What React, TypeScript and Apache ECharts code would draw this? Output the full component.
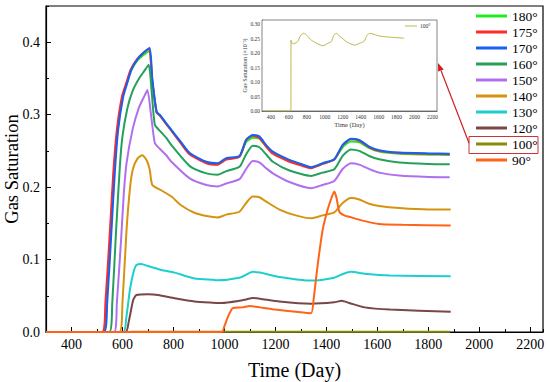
import React, { useEffect, useRef } from "react";
import * as echarts from "echarts";

const FONT = "Liberation Serif";

const seriesNames = ["180°", "175°", "170°", "160°", "150°", "140°", "130°", "120°", "100°", "90°"];
const seriesColors = ["#22ea22", "#ff2a2a", "#1a5ff0", "#24a05a", "#b070ee", "#d59310", "#1ccfcf", "#7a4646", "#8a8a08", "#ff6318"];

const xTickLabels = [400, 600, 800, 1000, 1200, 1400, 1600, 1800, 2000, 2200];
const yTickLabels = [0, 0.1, 0.2, 0.3, 0.4];
const insetYTickLabels = [0, 0.05, 0.1, 0.15, 0.2, 0.25, 0.3];

// 170°
const d170 = [300, 527, 540, 557, 570, 583, 603, 620, 635, 660, 685, 707, 717, 734, 746, 772, 792, 830, 864, 929, 974, 1007, 1059, 1085, 1111, 1137, 1164, 1190, 1255, 1300, 1340, 1385, 1431, 1464, 1496, 1529, 1568, 1607, 1686, 1800, 1884];
const v170 = [0, 0, 0.04, 0.141, 0.22, 0.279, 0.325, 0.345, 0.362, 0.377, 0.386, 0.392, 0.35, 0.304, 0.3, 0.288, 0.279, 0.262, 0.247, 0.235, 0.233, 0.24, 0.243, 0.265, 0.272, 0.27, 0.258, 0.249, 0.2375, 0.232, 0.2275, 0.233, 0.2385, 0.258, 0.2666, 0.265, 0.256, 0.251, 0.2477, 0.2465, 0.246];
// 175°
const d175 = [300, 520, 533, 551, 564, 578, 598, 616, 632, 658, 684, 705, 716, 734, 746, 772, 792, 830, 864, 929, 974, 1007, 1059, 1085, 1111, 1137, 1164, 1190, 1255, 1300, 1340, 1385, 1431, 1464, 1496, 1529, 1568, 1607, 1686, 1800, 1884];
const v175 = [0, 0, 0.04, 0.141, 0.22, 0.279, 0.325, 0.345, 0.362, 0.377, 0.386, 0.391, 0.35, 0.303, 0.299, 0.287, 0.278, 0.26, 0.245, 0.233, 0.231, 0.238, 0.242, 0.265, 0.271, 0.268, 0.256, 0.246, 0.235, 0.23, 0.2262, 0.232, 0.238, 0.258, 0.266, 0.264, 0.255, 0.25, 0.247, 0.246, 0.2455];
// 180°
const d180 = [300, 524, 537, 554, 567, 581, 601, 618, 634, 659, 685, 706, 716, 734, 746, 772, 792, 830, 864, 929, 974, 1007, 1059, 1085, 1111, 1137, 1164, 1190, 1255, 1300, 1340, 1385, 1431, 1464, 1496, 1529, 1568, 1607, 1686, 1800, 1884];
const v180 = [0, 0, 0.04, 0.141, 0.22, 0.279, 0.325, 0.345, 0.361, 0.375, 0.383, 0.388, 0.348, 0.303, 0.299, 0.287, 0.278, 0.261, 0.246, 0.234, 0.232, 0.239, 0.242, 0.262, 0.268, 0.267, 0.256, 0.248, 0.237, 0.2315, 0.227, 0.232, 0.238, 0.255, 0.263, 0.262, 0.254, 0.249, 0.246, 0.2448, 0.2443];
// 160°
const d160 = [300, 548, 560, 575, 590, 600, 620, 640, 665, 685, 703, 715, 727, 746, 772, 792, 864, 929, 974, 1007, 1059, 1085, 1111, 1137, 1164, 1190, 1255, 1340, 1385, 1431, 1464, 1496, 1529, 1568, 1607, 1686, 1800, 1884];
const v160 = [0, 0, 0.04, 0.14, 0.23, 0.27, 0.31, 0.333, 0.35, 0.36, 0.369, 0.33, 0.286, 0.278, 0.268, 0.258, 0.229, 0.219, 0.217, 0.222, 0.228, 0.245, 0.257, 0.255, 0.245, 0.235, 0.223, 0.2155, 0.22, 0.2247, 0.243, 0.252, 0.25, 0.243, 0.2385, 0.234, 0.232, 0.2316];
// 150°
const d150 = [300, 567, 578, 595, 605, 616, 640, 665, 685, 698, 712, 727, 746, 772, 792, 864, 929, 974, 1007, 1059, 1085, 1111, 1137, 1164, 1190, 1255, 1340, 1385, 1431, 1464, 1496, 1529, 1568, 1607, 1686, 1800, 1884];
const v150 = [0, 0, 0.04, 0.13, 0.19, 0.233, 0.28, 0.31, 0.325, 0.334, 0.3, 0.261, 0.253, 0.244, 0.235, 0.212, 0.203, 0.201, 0.205, 0.211, 0.225, 0.236, 0.234, 0.226, 0.219, 0.207, 0.1985, 0.203, 0.2085, 0.225, 0.233, 0.231, 0.225, 0.22, 0.216, 0.214, 0.2137];
// 140°
const d140 = [300, 588, 600, 616, 630, 641, 660, 678, 695, 707, 717, 750, 792, 830, 880, 930, 974, 1007, 1059, 1085, 1111, 1137, 1164, 1216, 1280, 1340, 1385, 1431, 1464, 1496, 1529, 1568, 1607, 1686, 1800, 1888];
const v140 = [0, 0, 0.04, 0.141, 0.2, 0.225, 0.24, 0.244, 0.237, 0.224, 0.203, 0.196, 0.187, 0.175, 0.165, 0.16, 0.158, 0.162, 0.166, 0.178, 0.187, 0.186, 0.18, 0.169, 0.161, 0.157, 0.161, 0.165, 0.178, 0.185, 0.183, 0.177, 0.174, 0.171, 0.169, 0.169];
// 130°
const d130 = [300, 603, 615, 630, 645, 655, 674, 700, 753, 805, 850, 883, 955, 974, 1059, 1085, 1111, 1140, 1216, 1340, 1431, 1465, 1496, 1560, 1650, 1888];
const v130 = [0, 0, 0.02, 0.06, 0.085, 0.0925, 0.094, 0.091, 0.0856, 0.082, 0.077, 0.074, 0.072, 0.0715, 0.075, 0.079, 0.083, 0.082, 0.076, 0.071, 0.075, 0.08, 0.083, 0.08, 0.078, 0.077];
// 120°
const d120 = [300, 612, 625, 642, 655, 700, 740, 805, 883, 955, 990, 1059, 1085, 1111, 1140, 1216, 1340, 1431, 1460, 1490, 1550, 1650, 1888];
const v120 = [0, 0, 0.015, 0.044, 0.051, 0.052, 0.051, 0.0465, 0.042, 0.0405, 0.04, 0.043, 0.045, 0.047, 0.046, 0.042, 0.039, 0.041, 0.043, 0.04, 0.034, 0.031, 0.028];
// 100° (inset, in units of 1e-3)
const d100 = [300, 622, 623, 640, 698, 730, 765, 800, 850, 978, 1040, 1072, 1100, 1128, 1170, 1250, 1330, 1400, 1440, 1470, 1505, 1600, 1706, 1885];
const v100Inset = [0, 0, 0.245, 0.232, 0.24, 0.262, 0.269, 0.262, 0.245, 0.226, 0.235, 0.24, 0.262, 0.269, 0.258, 0.238, 0.228, 0.236, 0.242, 0.262, 0.269, 0.26, 0.256, 0.252];
// 90°
const d90 = [300, 990, 1000, 1015, 1033, 1070, 1100, 1140, 1200, 1280, 1340, 1350, 1365, 1385, 1405, 1420, 1431, 1440, 1451, 1470, 1490, 1529, 1607, 1700, 1888];
const v90 = [0, 0, 0.008, 0.022, 0.033, 0.034, 0.036, 0.034, 0.031, 0.028, 0.026, 0.045, 0.09, 0.14, 0.169, 0.185, 0.194, 0.185, 0.166, 0.161, 0.159, 0.155, 0.149, 0.148, 0.147];

const pairs = (d: number[], v: number[]) => d.map((t, i) => [t, v[i]]);

const mainData: Record<string, number[][]> = {
  "180°": pairs(d180, v180),
  "175°": pairs(d175, v175),
  "170°": pairs(d170, v170),
  "160°": pairs(d160, v160),
  "150°": pairs(d150, v150),
  "140°": pairs(d140, v140),
  "130°": pairs(d130, v130),
  "120°": pairs(d120, v120),
  "100°": pairs(d100, v100Inset.map((v) => v / 1000)),
  "90°": pairs(d90, v90),
};

export default function App() {
  const ref = useRef<HTMLDivElement>(null);
  useEffect(() => {
    if (!ref.current) return;
    const chart = echarts.init(ref.current, null, { renderer: "svg" });
    const black = "#000";

    const series: any[] = seriesNames.map((name, i) => ({
      type: "line",
      name,
      xAxisIndex: 0,
      yAxisIndex: 0,
      data: mainData[name],
      showSymbol: false,
      symbol: "none",
      smooth: 0.2,
      lineStyle: { color: seriesColors[i], width: 2 },
      itemStyle: { color: seriesColors[i] },
      z: 2 + i,
    }));
    series.push({
      type: "line",
      name: "inset100",
      xAxisIndex: 2,
      yAxisIndex: 2,
      data: pairs(d100, v100Inset),
      showSymbol: false,
      symbol: "none",
      smooth: 0.2,
      lineStyle: { color: "#b9b94a", width: 1 },
      itemStyle: { color: "#b9b94a" },
      z: 20,
    });

    const option: any = {
      animation: false,
      backgroundColor: "#fff",
      grid: [
        { left: 46, right: 7, top: 6, bottom: 50, outerBoundsMode: "none", containLabel: false, show: true, borderColor: black, borderWidth: 1.2, backgroundColor: "transparent" },
        { left: 262, top: 20, width: 175, height: 91, outerBoundsMode: "none", containLabel: false, show: true, borderColor: "#666", borderWidth: 0.8, backgroundColor: "#fff", z: 10 },
      ],
      legend: {
        data: seriesNames,
        orient: "vertical",
        left: 476,
        top: 9,
        padding: 0,
        itemGap: 2,
        itemWidth: 31,
        itemHeight: 3,
        icon: "rect",
        textStyle: { fontFamily: FONT, fontSize: 13.5, lineHeight: 14, color: black },
      },
      xAxis: [
        {
          gridIndex: 0, type: "value", min: 300, max: 2250, position: "bottom",
          axisLine: { show: true, onZero: false, lineStyle: { color: black, width: 1.2 } },
          axisTick: { show: true, inside: true, length: 5, customValues: xTickLabels, lineStyle: { color: black, width: 1 } },
          axisLabel: { customValues: xTickLabels, fontSize: 14, margin: 5, fontFamily: FONT, color: black, formatter: (v: number) => String(v) },
          splitLine: { show: false },
          name: "Time (Day)", nameLocation: "middle", nameGap: 28, nameMoveOverlap: false,
          nameTextStyle: { fontFamily: FONT, fontSize: 20, color: black },
        },
        {
          gridIndex: 0, type: "value", min: 300, max: 2250, interval: 100, position: "bottom",
          axisLine: { show: false, onZero: false },
          axisTick: { show: true, inside: true, length: 3, lineStyle: { color: black, width: 1 } },
          axisLabel: { show: false },
          splitLine: { show: false },
        },
        {
          gridIndex: 1, type: "value", min: 300, max: 2250, position: "bottom",
          axisLine: { show: true, onZero: false, lineStyle: { color: "#444", width: 0.8 } },
          axisTick: { show: true, inside: true, length: 2, customValues: xTickLabels, lineStyle: { color: "#444", width: 0.6 } },
          axisLabel: { customValues: xTickLabels, fontSize: 5.5, margin: 3, fontFamily: FONT, color: "#333", formatter: (v: number) => String(v) },
          splitLine: { show: false },
          name: "Time (Day)", nameLocation: "middle", nameGap: 10, nameMoveOverlap: false,
          nameTextStyle: { fontFamily: FONT, fontSize: 6.5, color: "#333" },
        },
      ],
      yAxis: [
        {
          gridIndex: 0, type: "value", min: 0, max: 0.45, position: "left",
          axisLine: { show: true, onZero: false, lineStyle: { color: black, width: 1.2 } },
          axisTick: { show: true, inside: true, length: 5, customValues: yTickLabels, lineStyle: { color: black, width: 1 } },
          axisLabel: { customValues: yTickLabels, fontSize: 14, margin: 6, formatter: (v: number) => v.toFixed(1), fontFamily: FONT, color: black },
          splitLine: { show: false },
          name: "Gas Saturation", nameLocation: "middle", nameGap: 25, nameMoveOverlap: false,
          nameTextStyle: { fontFamily: FONT, fontSize: 18.5, color: black },
        },
        {
          gridIndex: 0, type: "value", min: 0, max: 0.45, interval: 0.05, position: "left",
          axisLine: { show: false, onZero: false },
          axisTick: { show: true, inside: true, length: 3, lineStyle: { color: black, width: 1 } },
          axisLabel: { show: false },
          splitLine: { show: false },
        },
        {
          gridIndex: 1, type: "value", min: 0, max: 0.315, position: "left",
          axisLine: { show: true, onZero: false, lineStyle: { color: "#444", width: 0.8 } },
          axisTick: { show: true, inside: true, length: 2, customValues: insetYTickLabels, lineStyle: { color: "#444", width: 0.6 } },
          axisLabel: { customValues: insetYTickLabels, fontSize: 5.5, margin: 2, formatter: (v: number) => v.toFixed(2), fontFamily: FONT, color: "#333" },
          splitLine: { show: false },
          name: "Gas Saturation (×10⁻³)", nameLocation: "middle", nameGap: 14, nameMoveOverlap: false,
          nameTextStyle: { fontFamily: FONT, fontSize: 6, color: "#333" },
        },
      ],
      series,
      graphic: [
        { type: "rect", shape: { x: 469, y: 136.5, width: 69, height: 17 }, style: { fill: "none", stroke: "#cc3333", lineWidth: 1 }, z: 100 },
        { type: "line", shape: { x1: 469, y1: 143, x2: 441, y2: 70.5 }, style: { stroke: "#cc2222", lineWidth: 1.2 }, z: 100 },
        { type: "polygon", shape: { points: [[438, 63], [443.8, 69.4], [438.1, 71.6]] }, style: { fill: "#cc2222" }, z: 100 },
        { type: "line", shape: { x1: 405, y1: 26, x2: 417, y2: 26 }, style: { stroke: "#b9b94a", lineWidth: 1 }, z: 100 },
        { type: "text", x: 420, y: 26, style: { text: "100°", fontFamily: FONT, fontSize: 5.5, fill: "#333", verticalAlign: "middle" }, z: 100 },
      ],
    };
    chart.setOption(option);
    return () => chart.dispose();
  }, []);
  return <div ref={ref} style={{ width: 550, height: 382, position: "absolute", left: 0, top: 0 }} />;
}
